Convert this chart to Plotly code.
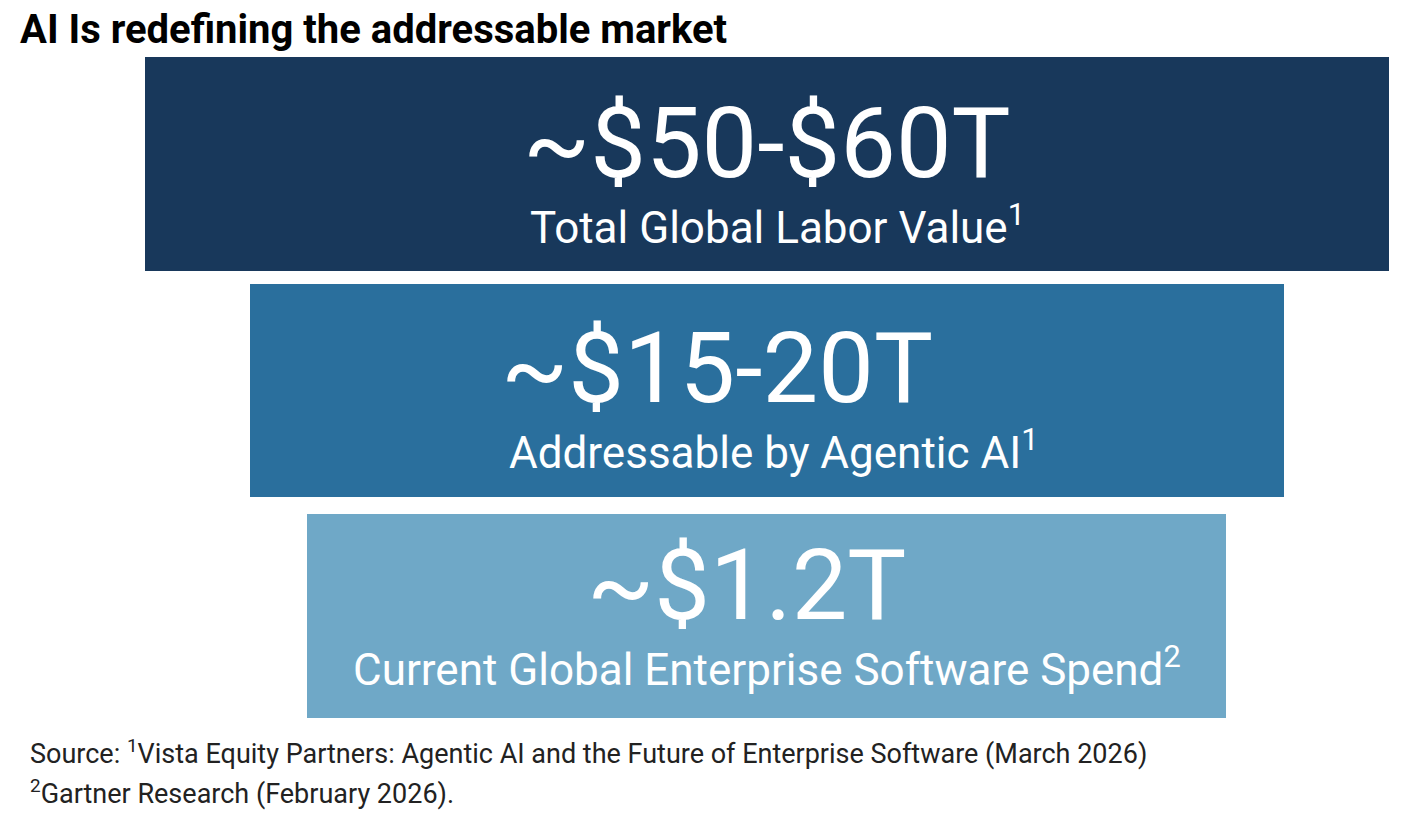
import plotly.graph_objects as go

# tiers of the market, top to bottom
amounts = ["~$50-$60T", "~$15-20T", "~$1.2T"]
labels = ["Total Global Labor Value", "Addressable by Agentic AI", "Current Global Enterprise Software Spend"]
footnote_refs = ["1", "1", "2"]
colors = ["#18385b", "#2a6f9d", "#6fa8c7"]

title = "AI Is redefining the addressable market"
source_lines = [
    "Source: <sup>1</sup>Vista Equity Partners: Agentic AI and the Future of Enterprise Software (March 2026)",
    "<sup>2</sup>Gartner Research (February 2026).",
]

# geometry of the blocks, in page pixels
W, H = 1416, 818
PAD = 8  # browser body margin
bar_left = [145, 250, 307]
bar_right = [1389, 1284, 1226]
bar_top = [57, 284, 514]
bar_bottom = [271, 497, 718]
num_dx = [0, -50, -20]
cap_dx = [10, 6, 0]
text_dy = [0, -2, -15]

FONT = "Roboto"

fig = go.Figure()
for i in range(len(amounts)):
    fig.add_trace(go.Bar(
        orientation="h",
        y=[(bar_top[i] + bar_bottom[i]) / 2],
        x=[bar_right[i] - bar_left[i]],
        base=[bar_left[i]],
        width=bar_bottom[i] - bar_top[i],
        marker=dict(color=colors[i], line=dict(width=0)),
        hoverinfo="skip",
        showlegend=False))

    mid = (bar_left[i] + bar_right[i]) / 2
    # big number
    fig.add_annotation(
        x=mid + num_dx[i], y=bar_top[i] + 86 + text_dy[i],
        xref="x", yref="y", text=amounts[i], showarrow=False,
        font=dict(family=FONT, size=99, color="white"),
        xanchor="center", yanchor="middle")
    # caption with footnote mark
    fig.add_annotation(
        x=mid + cap_dx[i], y=bar_top[i] + 168 + text_dy[i],
        xref="x", yref="y",
        text=labels[i] + "<sup>" + footnote_refs[i] + "</sup>",
        showarrow=False,
        font=dict(family=FONT, size=44, color="white"),
        xanchor="center", yanchor="middle")

fig.add_annotation(
    x=18, y=29, xref="x", yref="y", text="<b>" + title + "</b>",
    showarrow=False, font=dict(family=FONT, size=40, color="black"),
    xanchor="left", yanchor="middle")

for j, line in enumerate(source_lines):
    fig.add_annotation(
        x=28, y=752 + j * 40, xref="x", yref="y", text=line,
        showarrow=False, font=dict(family=FONT, size=27, color="#222222"),
        xanchor="left", yanchor="middle")

fig.update_layout(
    width=W - 2 * PAD, height=H - 2 * PAD,
    margin=dict(l=0, r=0, t=0, b=0),
    paper_bgcolor="white", plot_bgcolor="white",
    bargap=0,
    xaxis=dict(range=[PAD, W - PAD], visible=False, fixedrange=True),
    yaxis=dict(range=[H - PAD, PAD], visible=False, fixedrange=True),
)

fig.write_html("out.html")
